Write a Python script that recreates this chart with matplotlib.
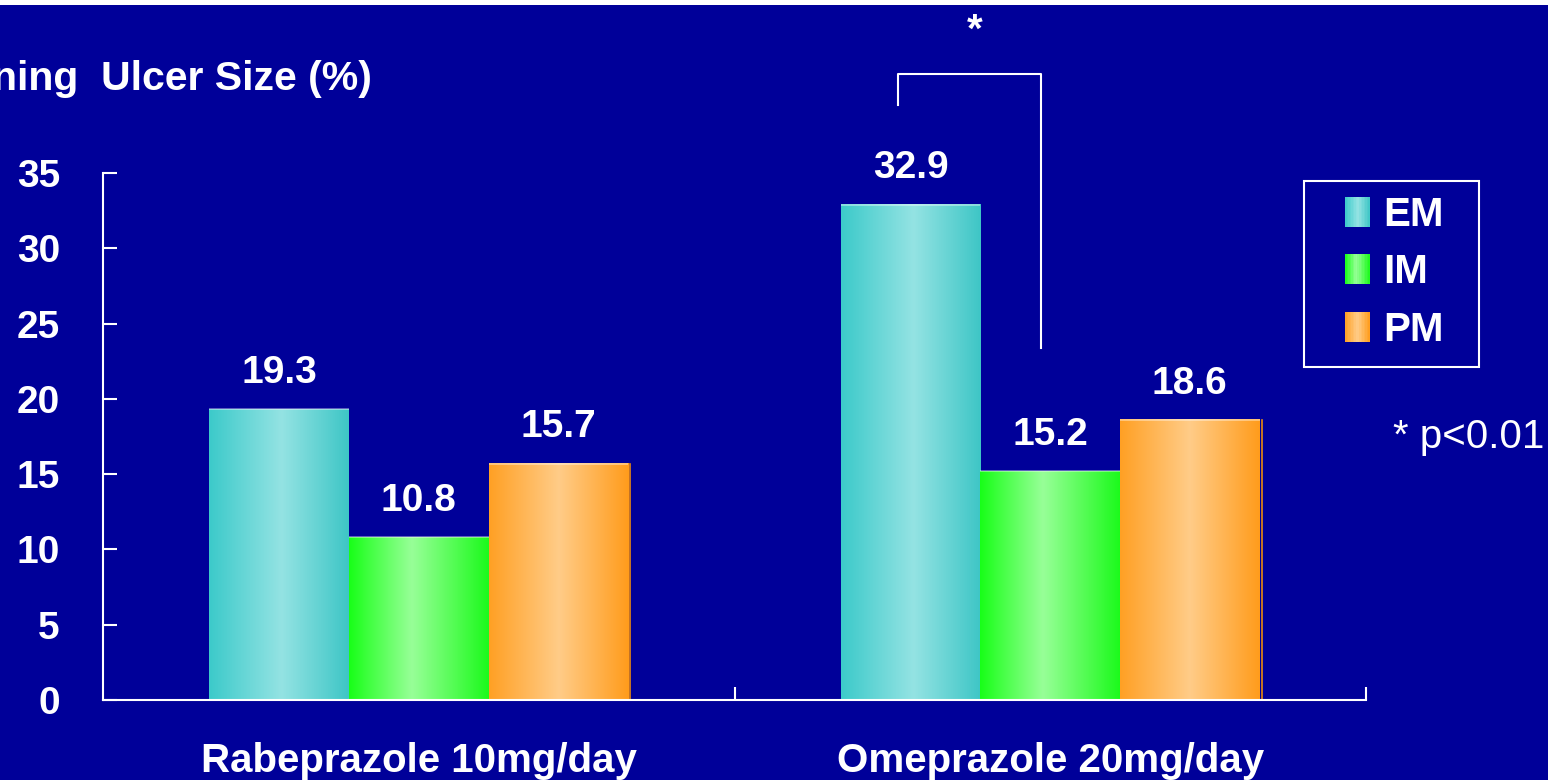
import numpy as np
import matplotlib
matplotlib.use('Agg')
import matplotlib.pyplot as plt
import matplotlib.transforms as mtransforms
from matplotlib.colors import LinearSegmentedColormap
from matplotlib.legend_handler import HandlerBase
from matplotlib.patches import Rectangle

plt.rcParams['font.family'] = ['Liberation Sans', 'DejaVu Sans']

# 数据
groups = ['Rabeprazole 10mg/day', 'Omeprazole 20mg/day']
series = ['EM', 'IM', 'PM']
em_vals = [19.3, 32.9]
im_vals = [10.8, 15.2]
pm_vals = [15.7, 18.6]
yticks = [0, 5, 10, 15, 20, 25, 30, 35]

# 每个系列的横向渐变色
em_stops = [(0.0, '#3CCACA'), (0.52, '#94E3E3'), (1.0, '#3EC6C6')]
im_stops = [(0.0, '#18FF18'), (0.45, '#98FF98'), (1.0, '#1CFA1C')]
pm_stops = [(0.0, '#FFA024'), (0.5, '#FFCC88'), (1.0, '#FF9C1C')]

BG = '#000099'
W, H = 1548, 780


class GradientHandler(HandlerBase):
    """图例中画渐变色块"""

    def __init__(self, cmap, n=16):
        super().__init__()
        self.cmap = cmap
        self.n = n

    def create_artists(self, legend, orig_handle, xdescent, ydescent,
                       width, height, fontsize, trans):
        arts = []
        for k in range(self.n):
            r = Rectangle((-xdescent + width * k / self.n, -ydescent),
                          width / self.n * 1.05, height,
                          facecolor=self.cmap((k + 0.5) / self.n),
                          edgecolor='none', transform=trans)
            arts.append(r)
        return arts


fig = plt.figure(figsize=(W / 100, H / 100), dpi=100, facecolor=BG)
ax = fig.add_axes([103 / W, 80 / H, 1263 / W, 527 / H])
ax.set_facecolor(BG)

x = np.arange(len(groups))
width = 0.221
grad = np.linspace(0, 1, 256).reshape(1, -1)
cmaps = {}
bar_sets = {}
for i, (name, vals, stops) in enumerate(zip(series, [em_vals, im_vals, pm_vals],
                                            [em_stops, im_stops, pm_stops])):
    cmap = LinearSegmentedColormap.from_list(name, stops)
    cmaps[name] = cmap
    bars = ax.bar(x + (i - 1) * width, vals, width, color='none',
                  edgecolor='none', zorder=2)
    bar_sets[name] = bars
    for b in bars:
        x0, w, h = b.get_x(), b.get_width(), b.get_height()
        ax.imshow(grad, cmap=cmap, extent=(x0, x0 + w, 0, h), aspect='auto',
                  interpolation='bicubic', zorder=2)
        # 柱顶浅色边
        ax.plot([x0, x0 + w], [h, h], color='white', alpha=0.45, lw=1.2,
                zorder=2.5, solid_capstyle='butt')
        ax.annotate(f'{h:.1f}', (x0 + w / 2, h), xytext=(0, 19),
                    textcoords='offset points', ha='center', va='baseline',
                    color='white', fontsize=28, fontweight='bold')

# PM 柱右侧细线
shift = mtransforms.ScaledTranslation(2 / 100, 0, fig.dpi_scale_trans)
for b in bar_sets['PM']:
    xr = b.get_x() + b.get_width()
    ax.plot([xr, xr], [0, b.get_height()], color='#E88A10', lw=1.2,
            transform=ax.transData + shift, zorder=2)

# 显著性标记
em_b = bar_sets['EM'][1]
im_b = bar_sets['IM'][1]
xl = em_b.get_x() + em_b.get_width() / 2 - 0.02
xr = im_b.get_x() + im_b.get_width() / 2 - 0.015
ax.plot([xl, xl, xr, xr], [39.5, 41.6, 41.6, 23.4], color='white', lw=1.5,
        clip_on=False, zorder=3)
ax.text((xl + xr) / 2 + 0.008, 44.45, '*', ha='center', va='center',
        color='white', fontsize=29, fontweight='bold', clip_on=False)

ax.set_xlim(-0.5, 1.5)
ax.set_ylim(0, 35)
for s in ['top', 'right']:
    ax.spines[s].set_visible(False)
for s in ['left', 'bottom']:
    ax.spines[s].set_color('white')
    ax.spines[s].set_linewidth(1.5)

ax.set_yticks(yticks)
ax.tick_params(axis='y', direction='in', length=10, width=1.5, colors='white',
               labelsize=28, pad=31)
ax.set_xticks(x)
ax.set_xticklabels(groups)
ax.tick_params(axis='x', which='major', length=0, colors='white',
               labelsize=29, pad=30)
ax.set_xticks([0.5, 1.5], minor=True)
ax.tick_params(axis='x', which='minor', direction='in', length=9.5, width=1.5,
               colors='white')
for lab in ax.get_xticklabels() + ax.get_yticklabels():
    lab.set_fontweight('bold')

# 纵轴标题
fig.text(372 / W, 1 - 90 / H, 'Remaining  Ulcer Size (%)', ha='right',
         va='baseline', color='white', fontsize=29.5, fontweight='bold')

# 图例
proxies = [Rectangle((0, 0), 1, 1) for _ in series]
leg = fig.legend(proxies, series,
                 handler_map={p: GradientHandler(cmaps[s]) for p, s in zip(proxies, series)},
                 loc='upper left', bbox_to_anchor=(1345 / W, 1 - 196 / H),
                 frameon=False, borderpad=0, borderaxespad=0,
                 handlelength=0.62, handleheight=0.78, handletextpad=0.33,
                 labelspacing=0.48, prop={'size': 29, 'weight': 'bold'},
                 labelcolor='white')
fig.patches.append(Rectangle((1304 / W, 1 - 367 / H), 175 / W, 186 / H,
                             transform=fig.transFigure, fill=False,
                             edgecolor='white', lw=1.5))

fig.text(1393 / W, 1 - 448 / H, '* p<0.01', ha='left', va='baseline',
         color='white', fontsize=29)

# 顶部白边
fig.patches.append(Rectangle((0, 1 - 5 / H), 1, 5 / H,
                             transform=fig.transFigure, facecolor='white',
                             edgecolor='none', zorder=10))

fig.savefig('out.png', dpi=100, facecolor=BG)
